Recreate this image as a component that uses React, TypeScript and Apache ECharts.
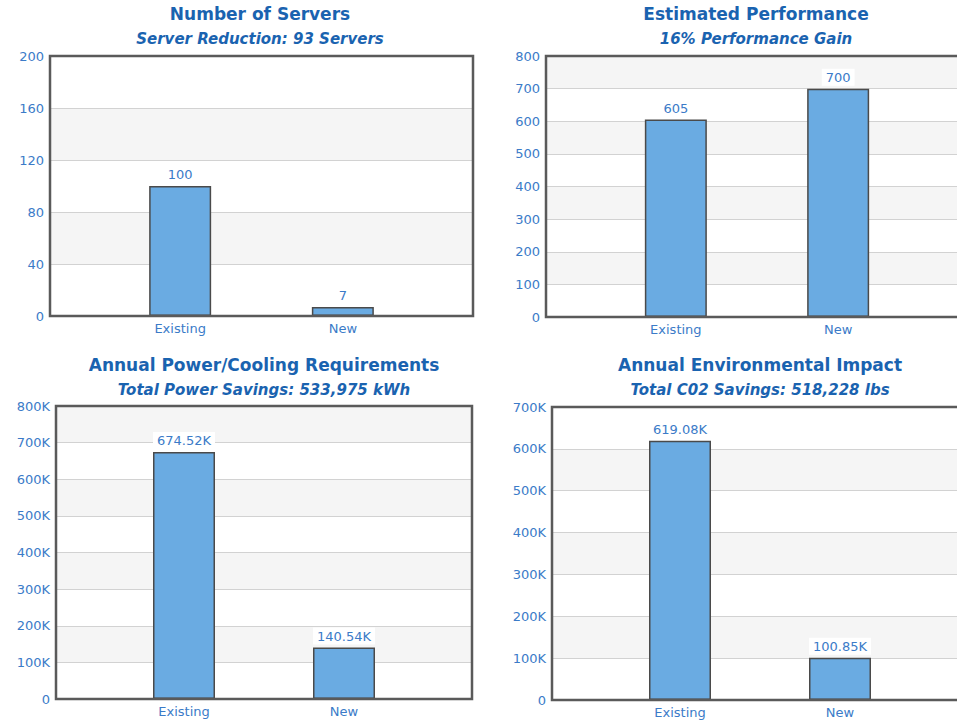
import React, { useEffect, useRef } from "react";
import * as echarts from "echarts";

// Categories shared by every panel
const categories = ["Existing", "New"];

// Panel headings
const titles = [
  "Number of Servers",
  "Estimated Performance",
  "Annual Power/Cooling Requirements",
  "Annual Environmental Impact",
];
const subtitles = [
  "Server Reduction: 93 Servers",
  "16% Performance Gain",
  "Total Power Savings: 533,975 kWh",
  "Total C02 Savings: 518,228 lbs",
];

// Bar values per panel (Existing, New)
const servers = [100, 7];
const performance = [605, 700];
const powerKwh = [674520, 140540];
const co2Lbs = [619080, 100850];

// Value-axis scales per panel
const yMax = [200, 800, 800000, 700000];
const yStep = [40, 100, 100000, 100000];

const FONT = "'DejaVu Sans', Verdana, sans-serif";
const TITLE_COLOR = "#1a63b0";
const LABEL_COLOR = "#3b7bc8";
const BAR_COLOR = "#6aabe2";

const fmtK = (v: number) => {
  if (v === 0) return "0";
  if (v >= 1000) {
    const k = v / 1000;
    return (Number.isInteger(k) ? String(k) : k.toFixed(2)) + "K";
  }
  return String(v);
};

export default function App() {
  const ref = useRef<HTMLDivElement>(null);

  useEffect(() => {
    if (!ref.current) return;
    document.body.style.margin = "0";
    const chart = echarts.init(ref.current, undefined, { renderer: "svg" });

    // The right-hand panels run past the visible edge, so the canvas is wider
    // than the viewport and clipped by its wrapper.
    const grids = [
      { left: 50, top: 56, width: 423, height: 260 },
      { left: 546, top: 56, width: 422, height: 261 },
      { left: 56, top: 406, width: 416, height: 293 },
      { left: 552, top: 407, width: 416, height: 293 },
    ];
    const titleCenters = [
      { x: 260, y: 5 },
      { x: 756, y: 5 },
      { x: 264, y: 356 },
      { x: 760, y: 356 },
    ];
    const seriesData = [servers, performance, powerKwh, co2Lbs];

    const option: any = {
      animation: false,
      backgroundColor: "#ffffff",
      title: titles.map((t, i) => ({
        text: t,
        subtext: subtitles[i],
        left: titleCenters[i].x,
        top: titleCenters[i].y,
        textAlign: "center",
        padding: 0,
        itemGap: 9,
        textStyle: {
          fontFamily: FONT,
          fontSize: 17,
          fontWeight: "bold",
          color: TITLE_COLOR,
        },
        subtextStyle: {
          fontFamily: FONT,
          fontSize: 15,
          fontWeight: "bold",
          fontStyle: "italic",
          color: TITLE_COLOR,
        },
      })),
      grid: grids.map((g) => ({
        ...g,
        show: true,
        backgroundColor: "transparent",
        borderColor: "#5a5a5a",
        borderWidth: 2.5,
        containLabel: false,
        z: 3,
      })),
      xAxis: grids.map((_, i) => ({
        type: "value",
        gridIndex: i,
        min: -0.8,
        max: 1.8,
        splitLine: { show: false },
        axisLine: { show: false },
        axisTick: { show: false },
        axisLabel: {
          customValues: [0, 1],
          formatter: (v: number) => categories[Math.round(v)] ?? "",
          color: LABEL_COLOR,
          fontFamily: FONT,
          fontSize: 13,
          margin: 6,
        },
      })),
      yAxis: grids.map((_, i) => ({
        type: "value",
        gridIndex: i,
        min: 0,
        max: yMax[i],
        interval: yStep[i],
        axisLine: { show: false },
        axisTick: { show: false },
        axisLabel: {
          formatter: (v: number) => fmtK(v),
          color: LABEL_COLOR,
          fontFamily: FONT,
          fontSize: 13,
          margin: 6,
        },
        splitLine: { show: true, lineStyle: { color: "#d2d2d2", width: 1 } },
        splitArea: { show: true, areaStyle: { color: ["#ffffff", "#f5f5f5"] } },
      })),
      series: seriesData.map((vals, i) => ({
        type: "bar",
        xAxisIndex: i,
        yAxisIndex: i,
        barWidth: 62,
        data: vals.map((v, j) => [j, v]),
        itemStyle: {
          color: BAR_COLOR,
          borderColor: "#4a4a4a",
          borderWidth: 1.5,
        },
        label: {
          show: true,
          position: "top",
          distance: 3,
          formatter: (p: any) => fmtK(p.value[1]),
          color: LABEL_COLOR,
          fontFamily: FONT,
          fontSize: 13,
          backgroundColor: "#ffffff",
          padding: [2, 4],
        },
      })),
    };

    chart.setOption(option);
    return () => chart.dispose();
  }, []);

  return (
    <div
      style={{
        position: "absolute",
        left: 0,
        top: 0,
        width: 957,
        height: 723,
        overflow: "hidden",
      }}
    >
      <div ref={ref} style={{ width: 990, height: 723 }} />
    </div>
  );
}
